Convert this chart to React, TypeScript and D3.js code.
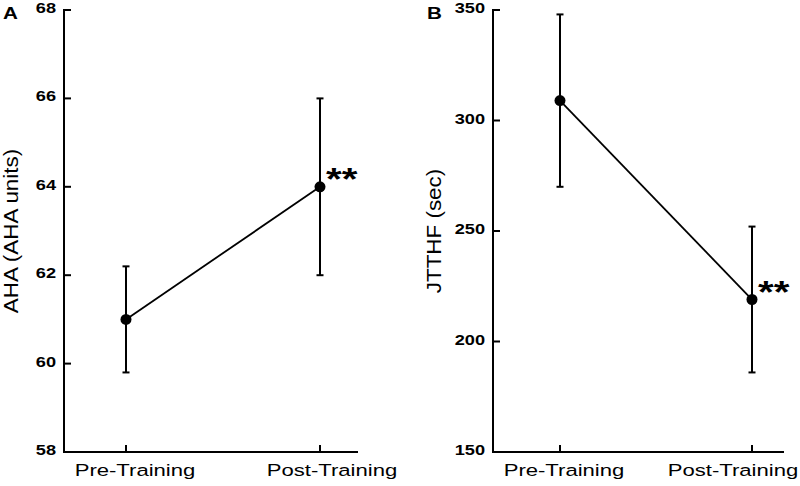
import React from "react";
import * as d3 from "d3";

const categories = ["Pre-Training", "Post-Training"];
const ahaMean = [61.0, 64.0];
const ahaLow = [59.8, 62.0];
const ahaHigh = [62.2, 66.0];
const ahaTicks = [58, 60, 62, 64, 66, 68];
const jtMean = [309, 219];
const jtLow = [270, 186];
const jtHigh = [348, 252];
const jtTicks = [150, 200, 250, 300, 350];
const sig = ["", "**"];

const FONT = "Liberation Sans, Arial, sans-serif";
const SX = 1.3;

function SText({ x, y, anchor = "start", size, weight = "normal", rotate = 0, sx = SX, children }: any) {
  return (
    <text
      transform={`translate(${x},${y}) rotate(${rotate}) scale(${sx},1)`}
      textAnchor={anchor}
      fontFamily={FONT}
      fontSize={size}
      fontWeight={weight}
      fill="#000"
    >
      {children}
    </text>
  );
}

function Panel({ left, right, xPos, labelDx, domain, ticks, mean, low, high, letter, ylabel, letterX, ylabelX, ylabelSx }: any) {
  const top = 10, bottom = 452;
  const y = d3.scaleLinear().domain(domain).range([bottom, top]);
  const x = d3.scalePoint().domain(categories).range(xPos);
  const line = d3.line<number>().x((_, i) => x(categories[i])!).y((d) => y(d));
  return (
    <g>
      <SText x={letterX} y={18.5} size={16.5} weight="bold" sx={1.25}>{letter}</SText>
      <SText x={ylabelX} y={(top + bottom) / 2} anchor="middle" size={19.5} rotate={-90} sx={ylabelSx}>{ylabel}</SText>
      <line x1={left} x2={left} y1={top - 1} y2={bottom + 1} stroke="#000" strokeWidth={2} />
      <line x1={left - 1} x2={right} y1={bottom} y2={bottom} stroke="#000" strokeWidth={2} />
      {ticks.map((t: number) => (
        <g key={t}>
          <line x1={left} x2={left + 7} y1={y(t)} y2={y(t)} stroke="#000" strokeWidth={2} />
          <SText x={left - 8} y={y(t) + 3} anchor="end" size={14} weight="bold">{t}</SText>
        </g>
      ))}
      {categories.map((c, i) => (
        <g key={c}>
          <line x1={x(c)} x2={x(c)} y1={bottom} y2={bottom - 7} stroke="#000" strokeWidth={2} />
          <SText x={x(c)! + labelDx[i]} y={476} anchor="middle" size={17}>{c}</SText>
        </g>
      ))}
      <path d={line(mean)!} fill="none" stroke="#000" strokeWidth={1.8} />
      {categories.map((c, i) => (
        <g key={c}>
          <line x1={x(c)} x2={x(c)} y1={y(low[i])} y2={y(high[i])} stroke="#000" strokeWidth={2} />
          <line x1={x(c)! - 3.5} x2={x(c)! + 3.5} y1={y(low[i])} y2={y(low[i])} stroke="#000" strokeWidth={2} />
          <line x1={x(c)! - 3.5} x2={x(c)! + 3.5} y1={y(high[i])} y2={y(high[i])} stroke="#000" strokeWidth={2} />
          <circle cx={x(c)} cy={y(mean[i])} r={5.5} fill="#000" />
          {sig[i] && (
            <SText x={x(c)! + 6} y={y(mean[i]) + 3} size={31} weight="bold">{sig[i]}</SText>
          )}
        </g>
      ))}
    </g>
  );
}

export default function App() {
  return (
    <svg width={800} height={486} style={{ display: "block", position: "absolute", left: 0, top: 0, background: "#fff" }}>
      <rect width={800} height={486} fill="#fff" />
      <Panel left={64} right={358} xPos={[126, 320]} labelDx={[9, 12]} domain={[58, 68]} ticks={ahaTicks}
        mean={ahaMean} low={ahaLow} high={ahaHigh} letter="A" ylabel="AHA (AHA units)" letterX={3} ylabelX={18} ylabelSx={1.15} />
      <Panel left={493} right={784} xPos={[560, 752]} labelDx={[4, -19]} domain={[150, 350]} ticks={jtTicks}
        mean={jtMean} low={jtLow} high={jtHigh} letter="B" ylabel="JTTHF (sec)" letterX={427} ylabelX={441} ylabelSx={1.15} />
    </svg>
  );
}
